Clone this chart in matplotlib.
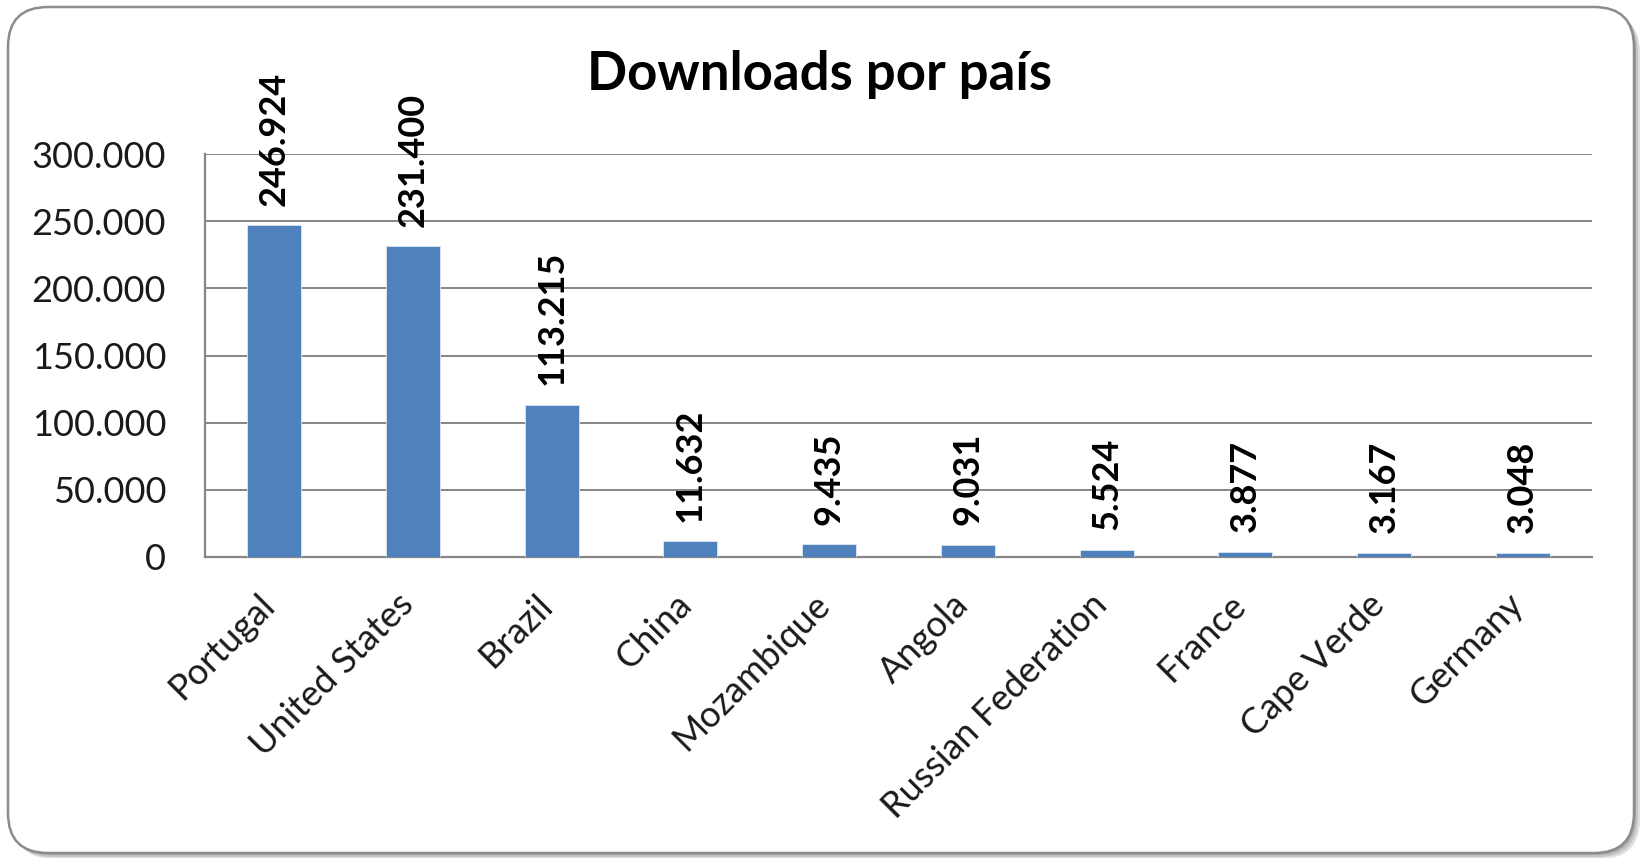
import matplotlib.pyplot as plt
from matplotlib.patches import FancyBboxPatch
from matplotlib.ticker import FuncFormatter
from matplotlib.transforms import ScaledTranslation

countries = ['Portugal', 'United States', 'Brazil', 'China', 'Mozambique',
             'Angola', 'Russian Federation', 'France', 'Cape Verde', 'Germany']
downloads = [246924, 231400, 113215, 11632, 9435, 9031, 5524, 3877, 3167, 3048]
yticks = [0, 50000, 100000, 150000, 200000, 250000, 300000]


def pt_fmt(v, pos=None):
    return f'{int(round(v)):,}'.replace(',', '.')


plt.rcParams['font.family'] = ['Lato', 'DejaVu Sans']

fig = plt.figure(figsize=(16.46, 8.58), dpi=100)

# rounded chart frame with a soft shadow, like Excel (inches)
bx, by, bw, bh = 0.08, 0.05, 16.26, 8.46
for off, col in [(0.06, '#e0e0e0'), (0.04, '#c4c4c4'), (0.02, '#a8a8a8')]:
    sh = FancyBboxPatch((bx + off, by - off), bw, bh,
                        boxstyle='round,pad=0,rounding_size=0.4', transform=fig.dpi_scale_trans,
                        facecolor=col, edgecolor='none', zorder=-3)
    fig.patches.append(sh)
frame = FancyBboxPatch((bx, by), bw, bh,
                       boxstyle='round,pad=0,rounding_size=0.4', transform=fig.dpi_scale_trans,
                       facecolor='white', edgecolor='#8c8c8c', linewidth=1.8, zorder=-2)
fig.patches.append(frame)

ax = fig.add_axes([205 / 1646, 1 - 557 / 858, 1387 / 1646, 403 / 858])
ax.patch.set_alpha(0)

x = range(len(countries))
ax.bar(x, downloads, width=0.39, color='#4f81bd', edgecolor='#dce6f2', linewidth=0.6, zorder=3)

for xi, v in zip(x, downloads):
    ax.annotate(pt_fmt(v), (xi, v), xytext=(0, 14), textcoords='offset points',
                rotation=90, ha='center', va='bottom', fontsize=26, fontweight='bold')

ax.set_xlim(-0.5, len(countries) - 0.5)
ax.set_ylim(0, 300000)
ax.set_yticks(yticks)
ax.yaxis.set_major_formatter(FuncFormatter(pt_fmt))
ax.set_xticks(list(x))
ax.set_xticklabels(countries, rotation=45, ha='right', va='top', fontsize=26)
ax.tick_params(axis='y', labelsize=26, length=0, pad=28, labelcolor='#1a1a1a')
ax.tick_params(axis='x', length=0, pad=22, labelcolor='#1a1a1a')
shift = ScaledTranslation(7 / 100, 0, fig.dpi_scale_trans)
for lbl in ax.get_xticklabels():
    lbl.set_transform(lbl.get_transform() + shift)

ax.grid(axis='y', color='#868686', linewidth=1.4, zorder=1)
for s in ['top', 'right']:
    ax.spines[s].set_visible(False)
for s in ['left', 'bottom']:
    ax.spines[s].set_color('#868686')
    ax.spines[s].set_linewidth(1.6)

fig.text(0.498, 1 - 90 / 858, 'Downloads por país', ha='center', va='baseline',
         fontsize=38, fontweight='bold')

fig.savefig('out.png', dpi=100)
